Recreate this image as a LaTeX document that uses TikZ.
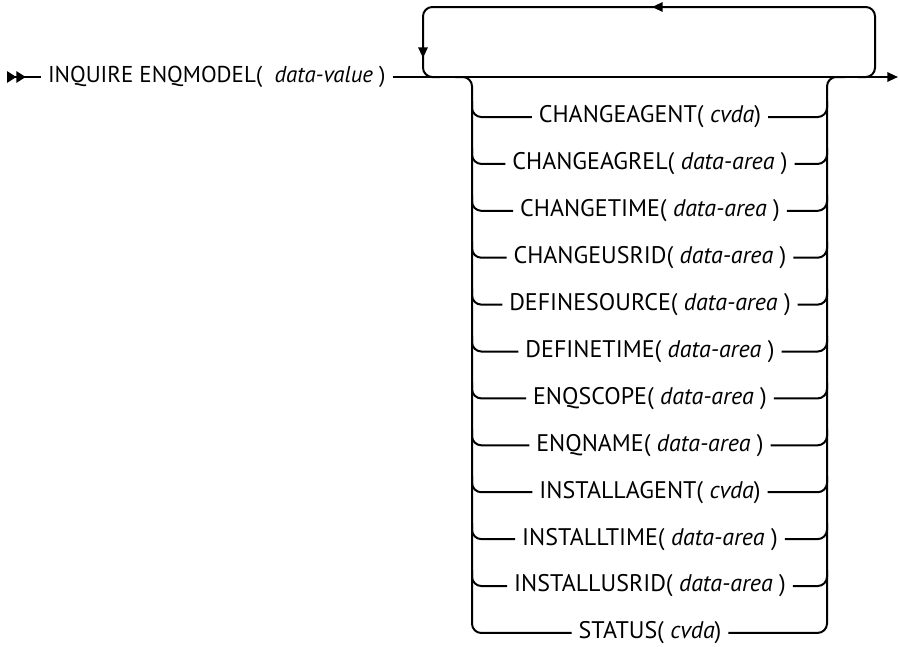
\documentclass[tikz,border=0pt]{standalone}
\usepackage{fontspec}
\setmainfont{PT Sans}
\usetikzlibrary{arrows.meta}

\begin{document}
\begin{tikzpicture}[
    x=0.75pt, y=-0.75pt,
    line width=1.5pt,
    opt/.style={font=\fontsize{18}{21}\selectfont, inner xsep=4.5pt, inner ysep=0pt},
    cmdtext/.style={font=\fontsize{17.2}{20}\selectfont, inner xsep=4.5pt, inner ysep=0pt},
    rail/.style={rounded corners=7pt},
    tip/.style={-{Triangle[length=8pt,width=7pt]}},
    start/.style={{Triangle[reversed,length=7pt,width=8.5pt]Triangle[reversed,length=7pt,width=8.5pt]}-}
]
\useasboundingbox (0,0) rectangle (899,646);

% main line
\coordinate (s) at (7,77);
\coordinate (e) at (898,77);
\node[cmdtext, anchor=west] (cmd) at (41,77) {INQUIRE ENQMODEL(\ \ \textit{data-value} )};
\draw[start] (s) -- (cmd.west);
\draw[tip] (cmd.east) -- (e);

% repeat loop
\coordinate (lb) at (440,77);
\coordinate (rb) at (858,77);
\draw[rail] (rb) -| (875,7) -| (423,77) -- (lb);
\draw[tip] (668,7) -- (652,7);
\draw[tip] (423,40) -- (423,58);

% options
\foreach \lab [count=\i from 0] in {
    {CHANGEAGENT(\ \textit{cvda})},
    {CHANGEAGREL(\ \textit{data-area} )},
    {CHANGETIME(\ \textit{data-area} )},
    {CHANGEUSRID(\ \textit{data-area} )},
    {DEFINESOURCE(\ \textit{data-area} )},
    {DEFINETIME(\ \textit{data-area} )},
    {ENQSCOPE(\ \textit{data-area} )},
    {ENQNAME(\ \textit{data-area} )},
    {INSTALLAGENT(\ \textit{cvda})},
    {INSTALLTIME(\ \textit{data-area} )},
    {INSTALLUSRID(\ \textit{data-area} )},
    {STATUS(\ \textit{cvda})}} {
  \node[opt] (o\i) at (650, 117+46.9*\i) {\lab};
}
\foreach \i in {0,...,10} {
  \draw[rail] ([xshift=-178*0.75pt, yshift=12pt]o\i.center) |- (o\i.west);
  \draw[rail] (o\i.east) -| ([xshift=177*0.75pt, yshift=12pt]o\i.center);
}
\draw[rail] (455,77) -| (472,633) -- (o11.west);
\draw[rail] (o11.east) -| (827,77) -- (845,77);

\end{tikzpicture}
\end{document}
